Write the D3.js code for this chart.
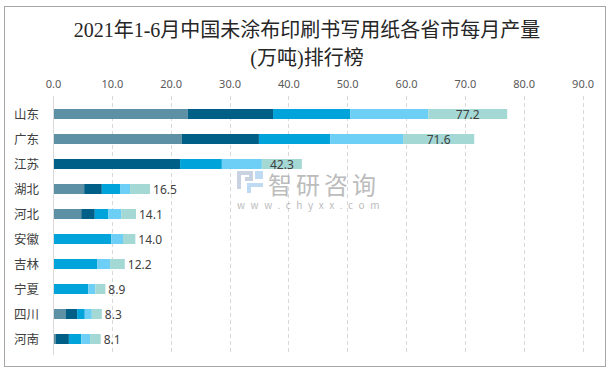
<!DOCTYPE html>
<html>
<head>
<meta charset="utf-8">
<script src="https://cdn.jsdelivr.net/npm/d3@7"></script>
<style>
  html, body { margin: 0; padding: 0; background: #ffffff; }
  svg { display: block; }
</style>
</head>
<body>
<div id="chart"></div>
<script>
// provinces, top to bottom
const provinces = ["山东", "广东", "江苏", "湖北", "河北", "安徽", "吉林", "宁夏", "四川", "河南"];
// monthly output pieces (万吨)
const part1 = [22.9, 21.9, 0, 5.3, 4.8, 0, 0, 0, 2.2, 0.5];
const part2 = [14.5, 13.1, 21.6, 3.0, 2.3, 0, 0, 0, 1.9, 2.2];
const part3 = [13.1, 12.1, 7.1, 3.1, 2.3, 9.9, 7.5, 6.0, 1.3, 2.1];
const part4 = [13.3, 12.4, 6.8, 1.7, 2.2, 2.0, 2.2, 1.2, 1.2, 1.5];
const part5 = [13.4, 12.1, 6.8, 3.4, 2.5, 2.1, 2.5, 1.7, 1.7, 1.8];
const totals = [77.2, 71.6, 42.3, 16.5, 14.1, 14.0, 12.2, 8.9, 8.3, 8.1];
const xTicks = [0, 10, 20, 30, 40, 50, 60, 70, 80, 90];

const partColors = ["#5d8fa5", "#005f86", "#00a3da", "#6dcff5", "#a3d8d5"];

const width = 614, height = 374;

const svg = d3.select("#chart").append("svg")
  .attr("width", width)
  .attr("height", height)
  .style("font-family", "'Microsoft YaHei', 'Noto Sans CJK SC', sans-serif");

// outer frame
svg.append("rect")
  .attr("x", 4.5).attr("y", 6.5)
  .attr("width", 601).attr("height", 360)
  .attr("fill", "#ffffff")
  .attr("stroke", "#a6a6a6")
  .attr("stroke-width", 1);

// title
const title = svg.append("text")
  .attr("text-anchor", "middle")
  .style("font-family", "'Liberation Serif', 'Noto Sans CJK SC', serif")
  .style("font-size", "20px")
  .attr("fill", "#262626");
title.append("tspan").attr("x", 307).attr("y", 37).text("2021年1-6月中国未涂布印刷书写用纸各省市每月产量");
title.append("tspan").attr("x", 307).attr("y", 65).text("(万吨)排行榜");

const x = d3.scaleLinear().domain([0, 90]).range([53, 582.5]);
const y = d3.scaleBand().domain(provinces).range([101.5, 351.5])
  .paddingInner(0.6).paddingOuter(0.3);

// grid
svg.append("g")
  .selectAll("line")
  .data(xTicks.slice(1))
  .join("line")
  .attr("x1", d => Math.round(x(d)) + 0.5)
  .attr("x2", d => Math.round(x(d)) + 0.5)
  .attr("y1", 96).attr("y2", 355)
  .attr("stroke", "#d9d9d9")
  .attr("stroke-dasharray", "4,3");

// top axis labels
const xAxis = d3.axisTop(x).tickValues(xTicks).tickFormat(d3.format(".1f")).tickSize(0).tickPadding(0);
svg.append("g")
  .attr("transform", "translate(0,88)")
  .call(xAxis)
  .call(g => g.select(".domain").remove())
  .call(g => g.selectAll("text")
    .attr("y", 0)
    .attr("dy", 0)
    .attr("fill", "#595959")
    .style("font-size", "11px")
    .style("font-family", "'Microsoft YaHei', 'Noto Sans', sans-serif"));

// watermark
const wm = svg.append("g").attr("opacity", 0.75);
wm.append("path")
  .attr("d", "M237,171 h16 v10 h-8 v-4 h4 v-2 h-8 v14 h-4 z")
  .attr("fill", "#b7c3d6");
wm.append("path")
  .attr("d", "M247,183 h16 v4 h-12 v6 h-4 z M255,171 h8 v8 h-8 z")
  .attr("fill", "#a9d0ef");
wm.append("text")
  .attr("x", 268).attr("y", 194)
  .style("font-size", "24px")
  .style("letter-spacing", "4px")
  .attr("fill", "#a6a6a6")
  .text("智研咨询");
wm.append("text")
  .attr("x", 237).attr("y", 209)
  .style("font-size", "10px")
  .style("letter-spacing", "5.6px")
  .attr("fill", "#a6a6a6")
  .text("www.chyxx.com");

// stacked bars
const parts = [part1, part2, part3, part4, part5];
const rows = provinces.map((p, i) => {
  const row = { province: p, total: totals[i] };
  parts.forEach((arr, k) => { row["p" + k] = arr[i]; });
  return row;
});
const stack = d3.stack().keys(parts.map((_, k) => "p" + k));
const layers = stack(rows);

svg.append("g")
  .selectAll("g")
  .data(layers)
  .join("g")
  .attr("fill", (d, k) => partColors[k])
  .selectAll("rect")
  .data(d => d.filter(s => s[1] > s[0]))
  .join("rect")
  .attr("x", d => x(d[0]))
  .attr("y", d => y(d.data.province))
  .attr("width", d => x(d[1]) - x(d[0]))
  .attr("height", y.bandwidth());

// category axis line
svg.append("line")
  .attr("x1", 53.5).attr("x2", 53.5)
  .attr("y1", 96).attr("y2", 355)
  .attr("stroke", "#d9d9d9");

// category labels
svg.append("g")
  .selectAll("text")
  .data(provinces)
  .join("text")
  .attr("x", 39)
  .attr("y", d => y(d) + y.bandwidth() / 2 + 4.5)
  .attr("text-anchor", "end")
  .attr("fill", "#404040")
  .style("font-size", "12.5px")
  .text(d => d);

// total labels: big bars get the label inside the last piece, small ones after the bar
const last = layers[layers.length - 1];
svg.append("g")
  .selectAll("text")
  .data(rows)
  .join("text")
  .attr("x", (d, i) => d.total > 30 ? (x(last[i][0]) + x(last[i][1])) / 2 : x(d.total) + 3)
  .attr("y", d => y(d.province) + y.bandwidth() / 2 + 4.5)
  .attr("text-anchor", d => d.total > 30 ? "middle" : "start")
  .attr("fill", "#404040")
  .style("font-size", "12px")
  .style("font-family", "'Microsoft YaHei', 'Noto Sans', sans-serif")
  .text(d => d.total.toFixed(1));
</script>
</body>
</html>
